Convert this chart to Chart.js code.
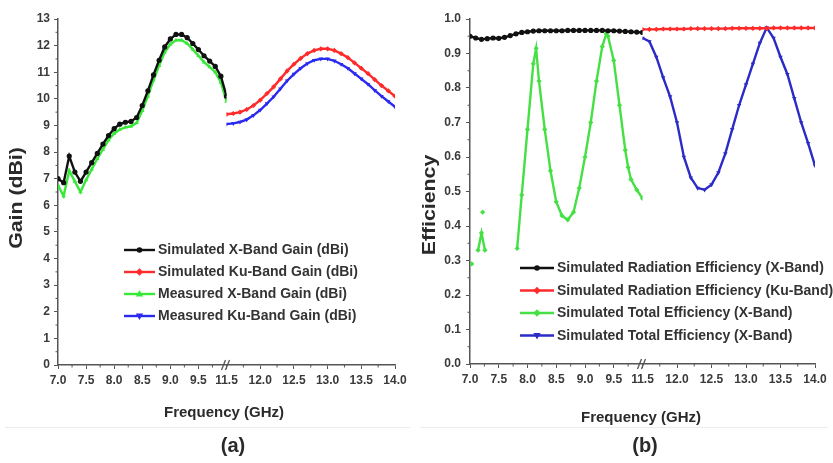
<!DOCTYPE html>
<html>
<head>
<meta charset="utf-8">
<script src="https://cdn.jsdelivr.net/npm/chart.js@4"></script>
<style>
html, body { margin: 0; padding: 0; background: #fff; }
#wrap { position: relative; width: 833px; height: 463px; overflow: hidden; }
#gainBox { position: absolute; left: 0; top: 0; width: 415px; height: 463px; }
#effBox { position: absolute; left: 415px; top: 0; width: 418px; height: 463px; }
</style>
</head>
<body>
<div id="wrap">
  <div id="gainBox"><canvas id="gainChart"></canvas></div>
  <div id="effBox"><canvas id="effChart"></canvas></div>
</div>
<script>
// frequency points (GHz)
var freqX = [7.0, 7.1, 7.2, 7.3, 7.4, 7.5, 7.6, 7.7, 7.8, 7.9, 8.0, 8.1, 8.2, 8.3, 8.4, 8.5,
             8.6, 8.7, 8.8, 8.9, 9.0, 9.1, 9.2, 9.3, 9.4, 9.5, 9.6, 9.7, 9.8, 9.9, 10.0];
var freqKu = [11.5, 11.6, 11.7, 11.8, 11.9, 12.0, 12.1, 12.2, 12.3, 12.4, 12.5, 12.6, 12.7,
              12.8, 12.9, 13.0, 13.1, 13.2, 13.3, 13.4, 13.5, 13.6, 13.7, 13.8, 13.9, 14.0];

// (a) gain, dBi
var gainSimX = [7.0, 6.85, 7.85, 7.25, 6.9, 7.25, 7.6, 7.95, 8.3, 8.62, 8.88, 9.05, 9.12, 9.15, 9.3, 9.75,
                10.3, 10.9, 11.45, 11.95, 12.25, 12.42, 12.42, 12.3, 12.08, 11.85, 11.62, 11.42, 11.22, 10.85, 10.1];
var gainMeasX = [6.75, 6.35, 7.3, 6.9, 6.5, 6.95, 7.35, 7.75, 8.1, 8.45, 8.7, 8.85, 8.93, 8.97, 9.1, 9.55,
                 10.1, 10.7, 11.25, 11.75, 12.05, 12.2, 12.2, 12.08, 11.86, 11.62, 11.38, 11.2, 11.0, 10.62, 9.9];
var gainSimKu = [9.42, 9.45, 9.5, 9.6, 9.75, 9.95, 10.2, 10.45, 10.75, 11.05, 11.3, 11.52, 11.7,
                 11.82, 11.88, 11.88, 11.82, 11.7, 11.55, 11.35, 11.15, 10.95, 10.72, 10.5, 10.3, 10.1];
var gainMeasKu = [9.05, 9.08, 9.13, 9.22, 9.38, 9.58, 9.82, 10.08, 10.38, 10.68, 10.93, 11.15, 11.33,
                  11.45, 11.5, 11.5, 11.43, 11.3, 11.15, 10.95, 10.75, 10.55, 10.32, 10.1, 9.9, 9.7];

// (b) efficiency
var effRadX = [0.950, 0.945, 0.941, 0.943, 0.945, 0.944, 0.947, 0.952, 0.957, 0.961, 0.963, 0.965, 0.966, 0.966, 0.966, 0.966,
               0.966, 0.967, 0.967, 0.967, 0.967, 0.967, 0.967, 0.967, 0.966, 0.966, 0.965, 0.964, 0.963, 0.962, 0.961];
var effRadKu = [0.970, 0.970, 0.970, 0.971, 0.971, 0.971, 0.971, 0.972, 0.972, 0.972, 0.972, 0.972, 0.972,
                0.973, 0.973, 0.973, 0.973, 0.973, 0.973, 0.974, 0.974, 0.974, 0.974, 0.974, 0.974, 0.974];
var freqTotX = [7.03, 7.08, 7.14, 7.2, 7.26, 7.24, 7.22, 7.3, 7.82, 7.9, 8.0, 8.1, 8.15, 8.2, 8.3, 8.4, 8.5,
                8.6, 8.7, 8.8, 8.9, 9.0, 9.1, 9.2, 9.3, 9.37, 9.4, 9.5, 9.6, 9.7, 9.75, 9.8, 9.9, 10.0];
var effTotX = [0.29, null, 0.33, 0.38, 0.33, null, 0.44, null, 0.335, 0.49, 0.68, 0.87, 0.915, 0.82, 0.68, 0.56, 0.47,
               0.43, 0.418, 0.44, 0.51, 0.60, 0.70, 0.82, 0.92, 0.957, 0.95, 0.88, 0.75, 0.62, 0.57, 0.535, 0.505, 0.48];
var effTotKu = [0.945, 0.935, 0.89, 0.83, 0.775, 0.70, 0.60, 0.54, 0.51, 0.505, 0.52, 0.555, 0.61,
                0.68, 0.75, 0.81, 0.87, 0.93, 0.975, 0.945, 0.89, 0.84, 0.77, 0.70, 0.64, 0.575];

// axis ticks
var xTicksLeft = [7.0, 7.5, 8.0, 8.5, 9.0, 9.5];
var xTicksRight = [11.5, 12.0, 12.5, 13.0, 13.5, 14.0];

var FONT = "'Liberation Sans', Arial, sans-serif";
var AXIS = '#555';

function pts(xs, ys) {
    return xs.map(function (x, i) { return { x: x, y: ys[i] }; });
}

function ds(label, data, color, style, axis, rot) {
    return {
        label: label, data: data, xAxisID: axis, yAxisID: 'y',
        borderColor: color, backgroundColor: color, borderWidth: 2.4,
        pointStyle: style, pointRotation: rot || 0, pointRadius: 2.6, pointBorderWidth: 0,
        tension: 0, spanGaps: false
    };
}

function drawMarker(ctx, style, rot, x, y, r) {
    ctx.beginPath();
    if (style === 'circle') {
        ctx.arc(x, y, r, 0, Math.PI * 2);
    } else if (style === 'rectRot') {
        ctx.moveTo(x, y - r * 1.3); ctx.lineTo(x + r * 1.3, y);
        ctx.lineTo(x, y + r * 1.3); ctx.lineTo(x - r * 1.3, y); ctx.closePath();
    } else {
        var s = rot ? -1 : 1;
        ctx.moveTo(x, y - s * r * 1.4); ctx.lineTo(x + r * 1.3, y + s * r * 0.9);
        ctx.lineTo(x - r * 1.3, y + s * r * 0.9); ctx.closePath();
    }
    ctx.fill();
}

function minorTicks(ctx, scale, vertical, area) {
    var t = scale.ticks;
    for (var i = 0; i < t.length - 1; i++) {
        var mid = (t[i].value + t[i + 1].value) / 2;
        var p = scale.getPixelForValue(mid);
        ctx.beginPath();
        if (vertical) { ctx.moveTo(area.left - 2.5, p); ctx.lineTo(area.left, p); }
        else { ctx.moveTo(p, area.bottom); ctx.lineTo(p, area.bottom + 2.5); }
        ctx.stroke();
    }
}

// titles, legend, break mark and minor ticks
var panelDecor = {
    id: 'panelDecor',
    afterDraw: function (chart, args, o) {
        var ctx = chart.ctx, area = chart.chartArea;
        var x1 = chart.scales.x, x2 = chart.scales.x2;
        ctx.save();
        ctx.strokeStyle = AXIS; ctx.lineWidth = 1;
        minorTicks(ctx, chart.scales.y, true, area);
        minorTicks(ctx, x1, false, area);
        minorTicks(ctx, x2, false, area);
        // last left minor tick between 9.5 and 10.0
        var p = x1.getPixelForValue(9.75);
        ctx.beginPath(); ctx.moveTo(p, area.bottom); ctx.lineTo(p, area.bottom + 2.5); ctx.stroke();

        // axis break
        var bx = x2.left, by = area.bottom;
        ctx.lineWidth = 1.3;
        ctx.beginPath();
        ctx.moveTo(bx - 5, by + 5); ctx.lineTo(bx - 1, by - 5);
        ctx.moveTo(bx - 1, by + 5); ctx.lineTo(bx + 3, by - 5);
        ctx.stroke();

        // faint separator
        ctx.strokeStyle = '#ececec'; ctx.lineWidth = 1;
        ctx.beginPath(); ctx.moveTo(5, 427.5); ctx.lineTo(chart.width - 5, 427.5); ctx.stroke();

        // legend
        ctx.font = 'bold 14px ' + FONT;
        ctx.textBaseline = 'middle';
        ctx.textAlign = 'left';
        chart.data.datasets.forEach(function (d, i) {
            var y = o.legY + i * o.legDy;
            ctx.strokeStyle = d.borderColor; ctx.lineWidth = 2.4;
            ctx.beginPath(); ctx.moveTo(o.legX, y); ctx.lineTo(o.legX + o.legLen, y); ctx.stroke();
            ctx.fillStyle = d.borderColor;
            drawMarker(ctx, d.pointStyle, d.pointRotation, o.legX + o.legLen / 2, y, 2.8);
            ctx.fillStyle = '#333';
            ctx.fillText(d.label, o.legX + o.legLen + 3, y + 0.5);
        });

        // axis titles and panel tag
        ctx.fillStyle = '#2a2a2a';
        ctx.textAlign = 'center';
        ctx.font = 'bold 15px ' + FONT;
        ctx.fillText(o.xTitle, o.xTitleX, o.xTitleY);
        ctx.font = 'bold 20px ' + FONT;
        ctx.fillText(o.tag, o.tagX, o.tagY);
        ctx.translate(o.yTitleX, o.yTitleY);
        ctx.rotate(-Math.PI / 2);
        ctx.scale(1.12, 1);
        ctx.font = 'bold 19px ' + FONT;
        ctx.fillText(o.yTitle, 0, 0);
        ctx.restore();
    }
};

function xScale(min, max, list, h) {
    return {
        type: 'linear', position: 'bottom', stack: 'freq', stackWeight: 1,
        min: min, max: max, offset: false,
        afterBuildTicks: function (s) { s.ticks = list.map(function (v) { return { value: v }; }); },
        afterFit: function (s) { s.height = h; },
        ticks: {
            autoSkip: false, maxRotation: 0, padding: 4, color: '#3a3a3a',
            font: { family: FONT, size: 12, weight: 'bold' },
            callback: function (v) { return Number(v).toFixed(1); }
        },
        grid: { display: true, drawOnChartArea: false, tickLength: 4, color: AXIS, tickWidth: 1 },
        border: { display: true, color: AXIS, width: 1.5 }
    };
}

function yScale(max, step, w, digits, pad) {
    return {
        type: 'linear', min: 0, max: max,
        afterFit: function (s) { s.width = w; },
        ticks: {
            stepSize: step, padding: pad, color: '#3a3a3a',
            font: { family: FONT, size: 12, weight: 'bold' },
            callback: function (v) { return Number(v).toFixed(digits); }
        },
        grid: { display: true, drawOnChartArea: false, tickLength: 4, color: AXIS, tickWidth: 1 },
        border: { display: true, color: AXIS, width: 1.5 }
    };
}

new Chart('gainChart', {
    type: 'line',
    data: {
        datasets: [
            ds('Simulated X-Band Gain (dBi)', pts(freqX, gainSimX), '#111111', 'circle', 'x'),
            ds('Simulated Ku-Band Gain (dBi)', pts(freqKu, gainSimKu), '#ff2a2a', 'rectRot', 'x2'),
            ds('Measured X-Band Gain (dBi)', pts(freqX, gainMeasX), '#38e838', 'triangle', 'x'),
            ds('Measured Ku-Band Gain (dBi)', pts(freqKu, gainMeasKu), '#2a2af0', 'triangle', 'x2', 180)
        ]
    },
    options: {
        responsive: true, maintainAspectRatio: false, animation: false,
        layout: { padding: { left: 0, right: 20, top: 19, bottom: 0 } },
        plugins: {
            legend: { display: false }, tooltip: { enabled: false },
            panelDecor: {
                legX: 124, legY: 250, legDy: 22, legLen: 31,
                xTitle: 'Frequency (GHz)', xTitleX: 224, xTitleY: 413,
                yTitle: 'Gain (dBi)', yTitleX: 17, yTitleY: 198,
                tag: '(a)', tagX: 233, tagY: 446
            }
        },
        scales: {
            x: xScale(7, 10, xTicksLeft, 98),
            x2: xScale(11.5, 14, xTicksRight, 98),
            y: yScale(13, 1, 58, 0, 4)
        }
    },
    plugins: [panelDecor]
});

new Chart('effChart', {
    type: 'line',
    data: {
        datasets: [
            ds('Simulated Radiation Efficiency (X-Band)', pts(freqX, effRadX), '#111111', 'circle', 'x'),
            ds('Simulated Radiation Efficiency (Ku-Band)', pts(freqKu, effRadKu), '#ff2a2a', 'rectRot', 'x2'),
            ds('Simulated Total Efficiency (X-Band)', pts(freqTotX, effTotX), '#44e044', 'rectRot', 'x'),
            ds('Simulated Total Efficiency (X-Band)', pts(freqKu, effTotKu), '#2b2bc8', 'triangle', 'x2', 180)
        ]
    },
    options: {
        responsive: true, maintainAspectRatio: false, animation: false,
        layout: { padding: { left: 0, right: 18, top: 19, bottom: 0 } },
        plugins: {
            legend: { display: false }, tooltip: { enabled: false },
            panelDecor: {
                legX: 105, legY: 268, legDy: 22.5, legLen: 34,
                xTitle: 'Frequency (GHz)', xTitleX: 226, xTitleY: 418,
                yTitle: 'Efficiency', yTitleX: 15, yTitleY: 205,
                tag: '(b)', tagX: 230, tagY: 446
            }
        },
        scales: {
            x: xScale(7, 10, xTicksLeft, 99),
            x2: xScale(11.5, 14, xTicksRight, 99),
            y: yScale(1, 0.1, 55, 1, 5)
        }
    },
    plugins: [panelDecor]
});
</script>
</body>
</html>
